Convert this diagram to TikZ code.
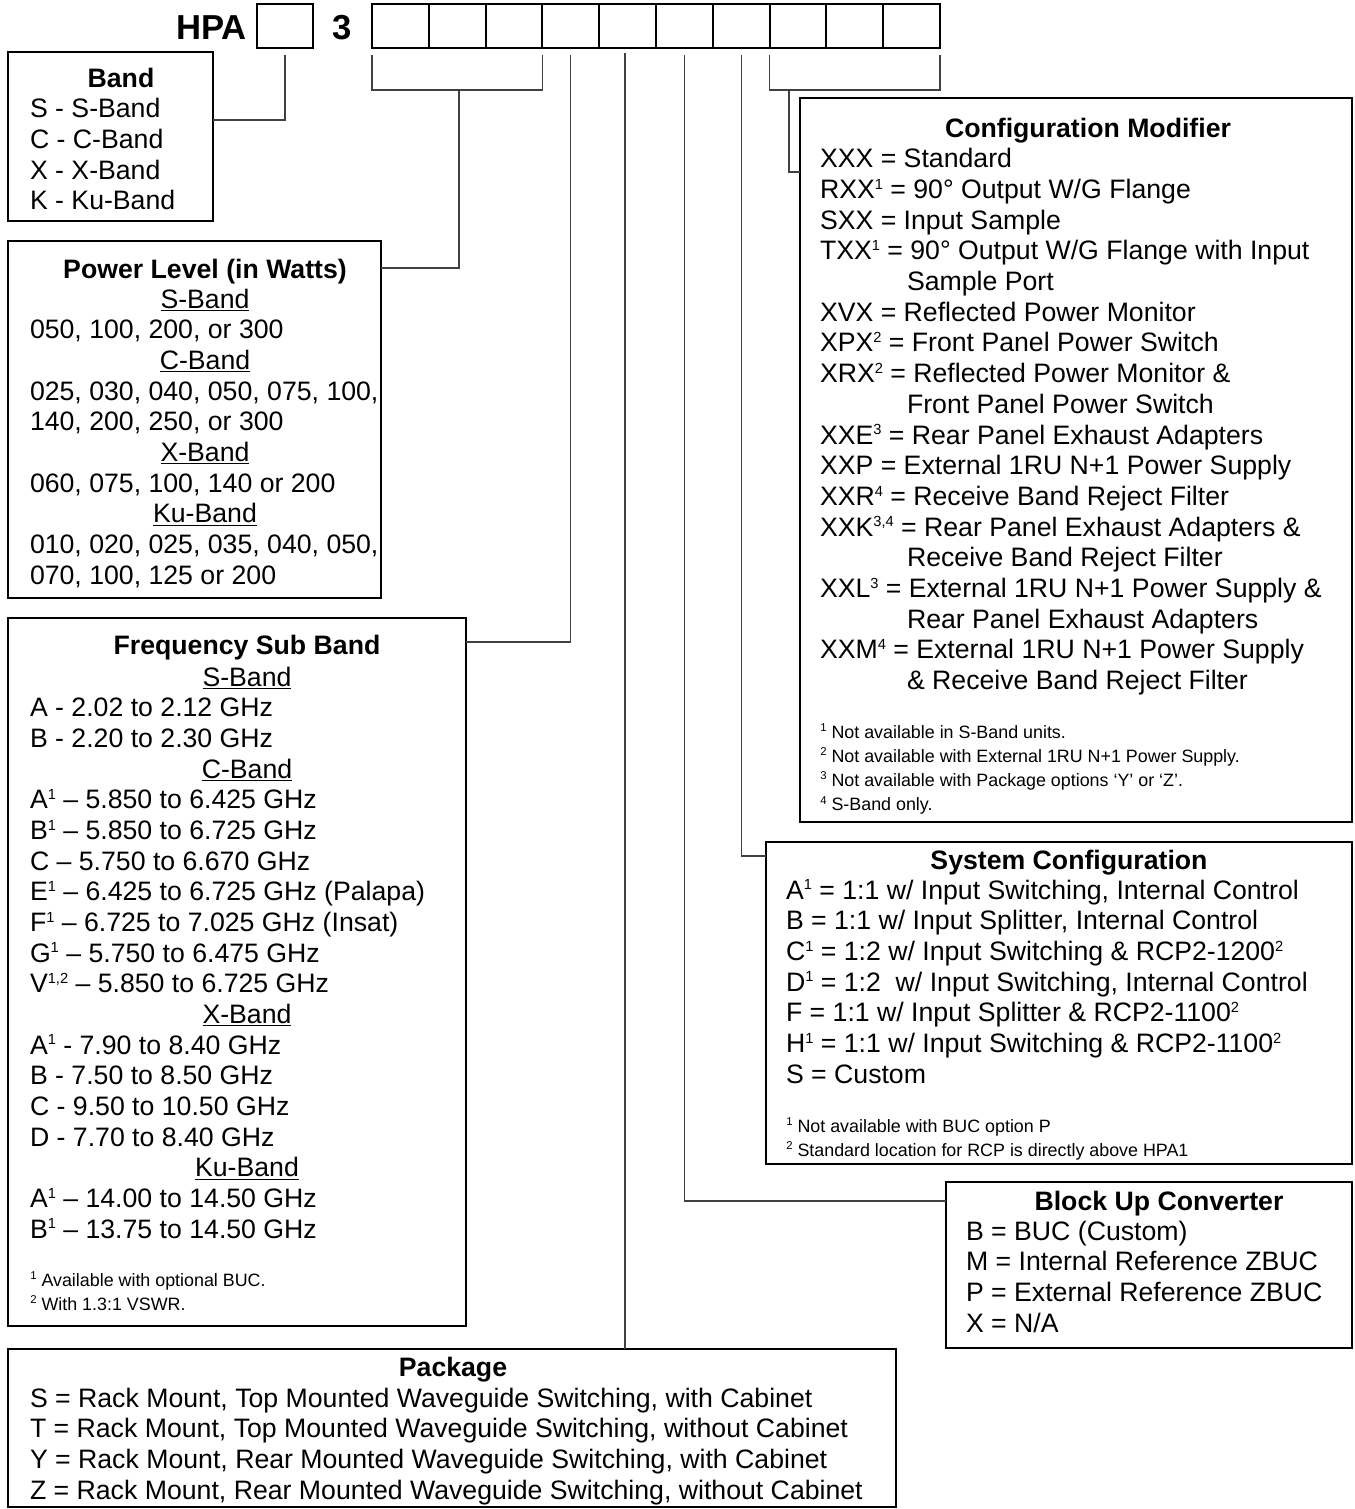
\documentclass[tikz,border=0pt]{standalone}
\usepackage{fontspec}
\setmainfont{Liberation Sans}
\newcommand\bsup[1]{\raisebox{7pt}{\fontsize{11}{11}\selectfont #1}}
\newcommand\fsup[1]{\raisebox{5pt}{\fontsize{8.5}{8.5}\selectfont #1}}
\newcommand\ind{\hspace*{65.25pt}}
\newcommand\subh[2]{\makebox[#1][c]{\underline{#2}}}
\tikzset{
  bodytxt/.style={anchor=base west, inner sep=0pt, outer sep=0pt, font=\fontsize{20}{23}\selectfont},
  ttl/.style={anchor=base, inner sep=0pt, font=\fontsize{20}{23}\selectfont\bfseries},
  fntxt/.style={anchor=base west, inner sep=0pt, font=\fontsize{13.4}{18.2}\selectfont},
  hdr/.style={inner sep=0pt, font=\fontsize{26}{30}\selectfont\bfseries},
  bx/.style={draw, line width=1.5pt, anchor=north west, inner sep=0pt, outer sep=0pt},
  hb/.style={draw, line width=1.5pt, anchor=north west, inner sep=0pt, outer sep=0pt, minimum height=33pt},
  conn/.style={line width=0.9pt, draw=black!75}
}
\begin{document}
\begin{tikzpicture}[x=0.75pt,y=-0.75pt]
\useasboundingbox (0,0) rectangle (1355,1509);

% ---------- header ----------
\node[hdr, anchor=base east] (hpa) at (247,40) {HPA};
\node[hb, minimum width=42pt] (b0) at (257,4) {};
\node[hdr, anchor=base] (three) at (342,40) {3};
\foreach \i in {1,...,10}{
  \node[hb, minimum width=42.6pt] (d\i) at ({372+56.8*(\i-1)},4) {};
}

% ---------- boxes ----------
\node[bx, minimum width=153.75pt, minimum height=126.75pt] (band) at (8,52) {};
\node[bx, minimum width=279.75pt, minimum height=267.75pt] (power) at (8,241) {};
\node[bx, minimum width=343.5pt, minimum height=531pt] (freq) at (8,618) {};
\node[bx, minimum width=666pt, minimum height=118.5pt] (pkg) at (8,1349) {};
\node[bx, minimum width=414pt, minimum height=543pt] (cfg) at (800,98) {};
\node[bx, minimum width=439.5pt, minimum height=241.5pt] (sys) at (766,842) {};
\node[bx, minimum width=304.5pt, minimum height=124.5pt] (buc) at (946,1182) {};

% ---------- connectors ----------
\coordinate (y90) at (0,90);
\coordinate (y120) at (0,120);
\coordinate (y268) at (0,268);
\coordinate (y642) at (0,642);
\coordinate (y856) at (0,856);
\coordinate (y1201) at (0,1201);
\coordinate (y172) at (0,172);

\coordinate (k0) at ([yshift=-5.25pt]b0.south);
\draw[conn] (k0) |- (band.east |- y120);

\coordinate (br1a) at ([yshift=-5.25pt]d1.south west);
\coordinate (br1b) at ([yshift=-5.25pt]d3.south east);
\draw[conn] (br1a) -- (br1a |- y90) -- (br1b |- y90) -- (br1b);
\coordinate (s1) at (459,90);
\draw[conn] (s1) |- (power.east |- y268);

\coordinate (k4) at ([yshift=-5.25pt]d4.south);
\draw[conn] (k4) |- (freq.east |- y642);

\coordinate (k5) at ([yshift=-3.75pt,xshift=-2pt]d5.south);
\draw[conn] (k5) -- (k5 |- pkg.north);

\coordinate (k6) at ([yshift=-5.25pt]d6.south);
\draw[conn] (k6) |- (buc.west |- y1201);

\coordinate (k7) at ([yshift=-5.25pt]d7.south);
\draw[conn] (k7) |- (sys.west |- y856);

\coordinate (br2a) at ([yshift=-5.25pt]d8.south west);
\coordinate (br2b) at ([yshift=-5.25pt]d10.south east);
\draw[conn] (br2a) -- (br2a |- y90) -- (br2b |- y90) -- (br2b);
\coordinate (s2) at (789,90);
\draw[conn] (s2) |- (cfg.west |- y172);

% ---------- Band ----------
\node[ttl] (bandT) at (121,88) {Band};
\node[bodytxt] (bandB) at (30,118) {\begin{tabular}[t]{@{}l@{}}
S - S-Band\\
C - C-Band\\
X - X-Band\\
K - Ku-Band
\end{tabular}};

% ---------- Power ----------
\node[ttl] (powT) at (205,278) {Power Level (in Watts)};
\node[bodytxt] (powB) at (30,308) {\begin{tabular}[t]{@{}l@{}}
\subh{262.5pt}{S-Band}\\
050, 100, 200, or 300\\
\subh{262.5pt}{C-Band}\\
025, 030, 040, 050, 075, 100,\\
140, 200, 250, or 300\\
\subh{262.5pt}{X-Band}\\
060, 075, 100, 140 or 200\\
\subh{262.5pt}{Ku-Band}\\
010, 020, 025, 035, 040, 050,\\
070, 100, 125 or 200
\end{tabular}};

% ---------- Frequency ----------
\node[ttl] (frqT) at (247,654) {Frequency Sub Band};
\node[bodytxt] (frqB) at (30,686) {\begin{tabular}[t]{@{}l@{}}
\subh{325.5pt}{S-Band}\\
A - 2.02 to 2.12 GHz\\
B - 2.20 to 2.30 GHz\\
\subh{325.5pt}{C-Band}\\
A\bsup{1} – 5.850 to 6.425 GHz\\
B\bsup{1} – 5.850 to 6.725 GHz\\
C – 5.750 to 6.670 GHz\\
E\bsup{1} – 6.425 to 6.725 GHz (Palapa)\\
F\bsup{1} – 6.725 to 7.025 GHz (Insat)\\
G\bsup{1} – 5.750 to 6.475 GHz\\
V\bsup{1,2} – 5.850 to 6.725 GHz\\
\subh{325.5pt}{X-Band}\\
A\bsup{1} - 7.90 to 8.40 GHz\\
B - 7.50 to 8.50 GHz\\
C - 9.50 to 10.50 GHz\\
D - 7.70 to 8.40 GHz\\
\subh{325.5pt}{Ku-Band}\\
A\bsup{1} – 14.00 to 14.50 GHz\\
B\bsup{1} – 13.75 to 14.50 GHz
\end{tabular}};
\node[fntxt] (frqF) at (30,1286) {\begin{tabular}[t]{@{}l@{}}
\fsup{1} Available with optional BUC.\\
\fsup{2} With 1.3:1 VSWR.
\end{tabular}};

% ---------- Package ----------
\node[ttl] (pkgT) at (453,1376) {Package};
\node[bodytxt] (pkgB) at (30,1407) {\begin{tabular}[t]{@{}l@{}}
S = Rack Mount, Top Mounted Waveguide Switching, with Cabinet\\
T = Rack Mount, Top Mounted Waveguide Switching, without Cabinet\\
Y = Rack Mount, Rear Mounted Waveguide Switching, with Cabinet\\
Z = Rack Mount, Rear Mounted Waveguide Switching, without Cabinet
\end{tabular}};

% ---------- Configuration Modifier ----------
\node[ttl] (cfgT) at (1088,138) {Configuration Modifier};
\node[bodytxt] (cfgB) at (820,168) {\begin{tabular}[t]{@{}l@{}}
XXX = Standard\\
RXX\bsup{1} = 90° Output W/G Flange\\
SXX = Input Sample\\
TXX\bsup{1} = 90° Output W/G Flange with Input\\
\ind Sample Port\\
XVX = Reflected Power Monitor\\
XPX\bsup{2} = Front Panel Power Switch\\
XRX\bsup{2} = Reflected Power Monitor \&\\
\ind Front Panel Power Switch\\
XXE\bsup{3} = Rear Panel Exhaust Adapters\\
XXP = External 1RU N+1 Power Supply\\
XXR\bsup{4} = Receive Band Reject Filter\\
XXK\bsup{3,4} = Rear Panel Exhaust Adapters \&\\
\ind Receive Band Reject Filter\\
XXL\bsup{3} = External 1RU N+1 Power Supply \&\\
\ind Rear Panel Exhaust Adapters\\
XXM\bsup{4} = External 1RU N+1 Power Supply\\
\ind \& Receive Band Reject Filter
\end{tabular}};
\node[fntxt] (cfgF) at (820,738) {\begin{tabular}[t]{@{}l@{}}
\fsup{1} Not available in S-Band units.\\
\fsup{2} Not available with External 1RU N+1 Power Supply.\\
\fsup{3} Not available with Package options ‘Y’ or ‘Z’.\\
\fsup{4} S-Band only.
\end{tabular}};

% ---------- System Configuration ----------
\node[ttl] (sysT) at (1069,869) {System Configuration};
\node[bodytxt] (sysB) at (786,899) {\begin{tabular}[t]{@{}l@{}}
A\bsup{1} = 1:1 w/ Input Switching, Internal Control\\
B = 1:1 w/ Input Splitter, Internal Control\\
C\bsup{1} = 1:2 w/ Input Switching \& RCP2-1200\bsup{2}\\
D\bsup{1} = 1:2\ \ w/ Input Switching, Internal Control\\
F = 1:1 w/ Input Splitter \& RCP2-1100\bsup{2}\\
H\bsup{1} = 1:1 w/ Input Switching \& RCP2-1100\bsup{2}\\
S = Custom
\end{tabular}};
\node[fntxt] (sysF) at (786,1132) {\begin{tabular}[t]{@{}l@{}}
\fsup{1} Not available with BUC option P\\
\fsup{2} Standard location for RCP is directly above HPA1
\end{tabular}};

% ---------- Block Up Converter ----------
\node[ttl] (bucT) at (1159,1210) {Block Up Converter};
\node[bodytxt] (bucB) at (966,1240) {\begin{tabular}[t]{@{}l@{}}
B = BUC (Custom)\\
M = Internal Reference ZBUC\\
P = External Reference ZBUC\\
X = N/A
\end{tabular}};
\end{tikzpicture}
\end{document}
